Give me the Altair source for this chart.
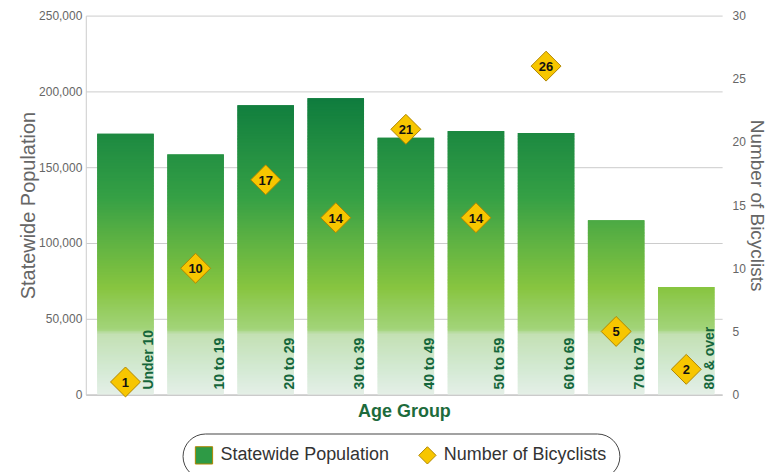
import altair as alt
import pandas as pd

age_groups = ["Under 10", "10 to 19", "20 to 29", "30 to 39", "40 to 49",
              "50 to 59", "60 to 69", "70 to 79", "80 & over"]
population = [172000, 158300, 190800, 195400, 169500, 173900, 172600, 115000, 71000]
bicyclists = [1, 10, 17, 14, 21, 14, 26, 5, 2]
series_names = ["Statewide Population", "Number of Bicyclists"]

# Build thin stacked slices of each bar so the fill follows one absolute gradient
STEP = 1000
rows = []
for g, v in zip(age_groups, population):
    lo = 0
    while lo < v:
        hi = min(lo + STEP, v)
        rows.append({"age": g, "lo": lo, "hi": min(hi + 1200, v), "mid": (lo + hi) / 2})
        lo = hi
seg = pd.DataFrame(rows)
pop_df = pd.DataFrame({"age": age_groups, "population": population, "zero": 0})
bike_df = pd.DataFrame({"age": age_groups, "bikes": bicyclists,
                        "series": series_names[1]})

x_enc = alt.X("age:N", sort=age_groups,
              scale=alt.Scale(paddingInner=0.194, paddingOuter=0.136, align=0.6),
              axis=alt.Axis(labels=False, ticks=False, title="Age Group",
                            titleColor="#1d6b3c", titleFontSize=18, titleFontWeight="bold",
                            titlePadding=8, domainColor="#bbbbbb"))
x_plain = alt.X("age:N", sort=age_groups)

y_left = alt.Scale(domain=[0, 250000])
y_right = alt.Scale(domain=[0, 30])

bars = alt.Chart(seg).mark_bar(opacity=1).encode(
    x=x_enc,
    y=alt.Y("lo:Q", scale=y_left,
            axis=alt.Axis(title="Statewide Population", format=",d",
                          values=[0, 50000, 100000, 150000, 200000, 250000],
                          grid=True, gridColor="#cccccc", ticks=False, labelPadding=4,
                          domainColor="#cccccc", labelColor="#666666", labelFontSize=12,
                          titleColor="#666666", titleFontSize=20, titleFontWeight="normal",
                          titlePadding=0)),
    y2="hi:Q",
    fill=alt.Fill("mid:Q", legend=None,
                  scale=alt.Scale(domain=[0, 40000, 43000, 70000, 130000, 200000],
                                  range=["#e5efe7", "#c4e0b3", "#a3d47a", "#88c540", "#35a045", "#0b7a3d"])),
)

xlabels = alt.Chart(pop_df).mark_text(
    angle=270, align="left", baseline="alphabetic", dy=28, dx=5,
    font="Liberation Sans", fontSize=14, fontWeight="bold", color="#14663a"
).encode(
    x=x_plain,
    y=alt.Y("zero:Q", scale=y_left, axis=None),
    text="age:N",
)

points = alt.Chart(bike_df).mark_point(
    filled=True, size=900, stroke="#b08600", strokeWidth=1, opacity=1
).encode(
    x=x_plain,
    y=alt.Y("bikes:Q", scale=y_right,
            axis=alt.Axis(title="Number of Bicyclists", orient="right",
                          values=[0, 5, 10, 15, 20, 25, 30], grid=False, ticks=False, domain=False,
                          tickColor="transparent", domainColor="transparent",
                          labelPadding=10, labelColor="#666666", labelFontSize=12,
                          titleColor="#666666", titleFontSize=19, titleFontWeight="normal",
                          titlePadding=1)),
    color=alt.Color("series:N",
                    scale=alt.Scale(domain=series_names, range=["#2e9a45", "#f7c600"]),
                    legend=alt.Legend(title=None, orient="none", direction="horizontal",
                                      legendX=97, legendY=419)),
    shape=alt.Shape("series:N",
                    scale=alt.Scale(domain=series_names, range=["square", "diamond"]),
                    legend=alt.Legend(title=None, orient="none", direction="horizontal",
                                      legendX=97, legendY=419)),
)

nums = alt.Chart(bike_df).mark_text(
    font="Liberation Sans", fontSize=13, fontWeight="bold", color="#111111", dy=1
).encode(
    x=x_plain,
    y=alt.Y("bikes:Q", scale=y_right, axis=None),
    text="bikes:Q",
)

chart = alt.layer(bars, xlabels, points, nums).resolve_scale(y="independent").properties(
    width=638, height=380, padding={"left": 10, "top": 1, "right": 4, "bottom": 0}
).configure_view(stroke=None).configure_axis(
    labelFont="Liberation Sans", titleFont="Liberation Sans"
).configure_legend(
    labelFont="Liberation Sans", labelFontSize=18, labelColor="#333333",
    strokeColor="#444444", cornerRadius=26, padding=12, symbolSize=300,
    columnPadding=26, symbolStrokeWidth=1, labelLimit=300, labelOffset=7
)

chart.save("out.html", embed_options={"renderer": "svg", "actions": False})
